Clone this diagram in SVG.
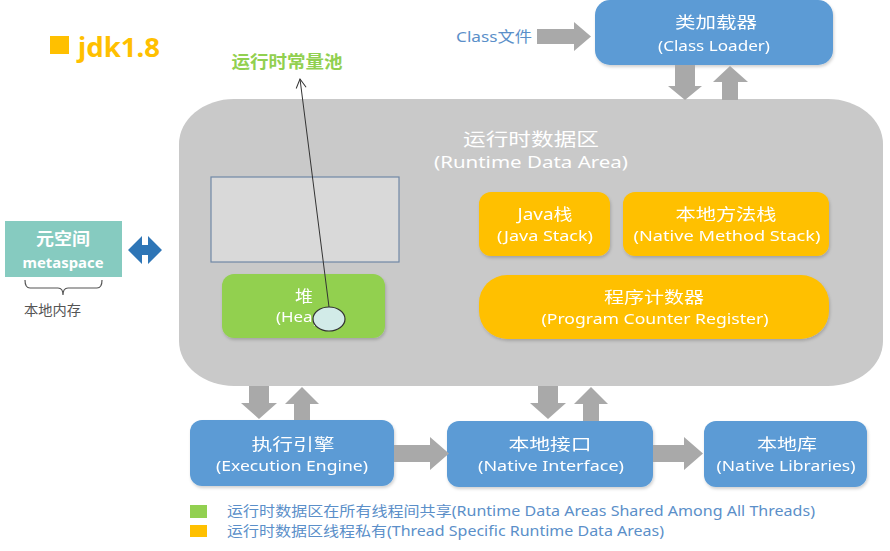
<svg xmlns="http://www.w3.org/2000/svg" width="890" height="551" viewBox="0 0 890 551">
<defs>
<style>
text{font-family:"Noto Sans","Noto Sans CJK SC",sans-serif;}
.w{fill:#ffffff;text-anchor:middle;}
.cn{font-size:16px;}
.en{font-size:15px;}
.blue{fill:#5b9bd5;}
.org{fill:#ffc000;}
.arr{fill:#a9a9a9;}
.leg{font-size:13.5px;fill:#5b8fc9;}
</style>
<filter id="sh" x="-10%" y="-10%" width="125%" height="130%">
<feDropShadow dx="1" dy="2" stdDeviation="1.5" flood-color="#000" flood-opacity="0.18"/>
</filter>
<marker id="open" markerWidth="12" markerHeight="12" refX="10" refY="6" orient="auto" markerUnits="userSpaceOnUse">
<path d="M1,1 L10,6 L1,11" fill="none" stroke="#333" stroke-width="1"/>
</marker>
</defs>
<rect width="890" height="551" fill="#ffffff"/>

<g id="title">
<rect x="50" y="36" width="19" height="18" fill="#ffc000"/>
<text x="78" y="57" font-size="27" font-weight="bold" fill="#ffc000" textLength="82" lengthAdjust="spacingAndGlyphs">jdk1.8</text>
</g>

<g id="runtime-data-area">
<rect x="179" y="99" width="704" height="287" rx="55" ry="45" fill="#c9c9c9"/>
<text x="531" y="146" class="w" font-size="18" fill="#f4f4f4" textLength="136" lengthAdjust="spacingAndGlyphs">运行时数据区</text>
<text x="531" y="168" class="w" font-size="16" fill="#f4f4f4" textLength="194" lengthAdjust="spacingAndGlyphs">(Runtime Data Area)</text>
</g>

<g id="class-file-label">
<text x="456" y="42" font-size="15" fill="#5b8fc9" textLength="76" lengthAdjust="spacingAndGlyphs">Class文件</text>
</g>

<g id="class-loader" filter="url(#sh)">
<rect x="595" y="0" width="238" height="65" rx="15" class="blue"/>
<text x="716" y="28" class="w cn" textLength="82" lengthAdjust="spacingAndGlyphs">类加载器</text>
<text x="714" y="51" class="w en" textLength="112" lengthAdjust="spacingAndGlyphs">(Class Loader)</text>
</g>

<g id="metaspace">
<rect x="5" y="221" width="117" height="56" fill="#86cbc0"/>
<text x="63" y="245" class="w" font-size="17" font-weight="bold" textLength="54" lengthAdjust="spacingAndGlyphs">元空间</text>
<text x="63" y="268" class="w" font-size="15" font-weight="bold" textLength="81" lengthAdjust="spacingAndGlyphs">metaspace</text>
<path d="M25,280 Q25,288 30,288 L58,288 Q63,288 63,295 Q63,288 68,288 L97,288 Q102,288 102,280" fill="none" stroke="#555" stroke-width="1.2"/>
<text x="24" y="315" font-size="14" fill="#555" textLength="57" lengthAdjust="spacingAndGlyphs">本地内存</text>
</g>

<g id="method-area-box">
<rect x="211" y="177" width="188" height="85" fill="#d9d9d9" stroke="#7088a6" stroke-width="1.2"/>
</g>

<g id="heap" filter="url(#sh)">
<rect x="222" y="274" width="163" height="64" rx="12" fill="#92d050"/>
<text x="304" y="302" class="w cn" textLength="18" lengthAdjust="spacingAndGlyphs">堆</text>
<text x="276" y="322" font-size="15" fill="#ffffff" textLength="52" lengthAdjust="spacingAndGlyphs">(Heap)</text>
</g>

<g id="java-stack" filter="url(#sh)">
<rect x="479" y="192" width="131" height="64" rx="12" class="org"/>
<text x="545" y="220" class="w cn" textLength="55" lengthAdjust="spacingAndGlyphs">Java栈</text>
<text x="545" y="241" class="w en" textLength="96" lengthAdjust="spacingAndGlyphs">(Java Stack)</text>
</g>

<g id="native-method-stack" filter="url(#sh)">
<rect x="623" y="192" width="206" height="64" rx="12" class="org"/>
<text x="726" y="220" class="w cn" textLength="101" lengthAdjust="spacingAndGlyphs">本地方法栈</text>
<text x="727" y="241" class="w en" textLength="187" lengthAdjust="spacingAndGlyphs">(Native Method Stack)</text>
</g>

<g id="program-counter" filter="url(#sh)">
<rect x="479" y="275" width="350" height="64" rx="28" class="org"/>
<text x="654" y="303" class="w cn" textLength="100" lengthAdjust="spacingAndGlyphs">程序计数器</text>
<text x="655" y="324" class="w en" textLength="227" lengthAdjust="spacingAndGlyphs">(Program Counter Register)</text>
</g>

<g id="execution-engine" filter="url(#sh)">
<rect x="190" y="420" width="204" height="66" rx="12" class="blue"/>
<text x="293" y="450" class="w cn" textLength="83" lengthAdjust="spacingAndGlyphs">执行引擎</text>
<text x="292" y="471" class="w en" textLength="152" lengthAdjust="spacingAndGlyphs">(Execution Engine)</text>
</g>

<g id="native-interface" filter="url(#sh)">
<rect x="447" y="421" width="206" height="66" rx="12" class="blue"/>
<text x="550" y="450" class="w cn" textLength="83" lengthAdjust="spacingAndGlyphs">本地接口</text>
<text x="551" y="471" class="w en" textLength="146" lengthAdjust="spacingAndGlyphs">(Native Interface)</text>
</g>

<g id="native-libraries" filter="url(#sh)">
<rect x="704" y="421" width="163" height="66" rx="12" class="blue"/>
<text x="787" y="450" class="w cn" textLength="60" lengthAdjust="spacingAndGlyphs">本地库</text>
<text x="786" y="471" class="w en" textLength="139" lengthAdjust="spacingAndGlyphs">(Native Libraries)</text>
</g>

<g id="legend">
<rect x="190" y="505" width="17" height="13" fill="#92d050"/>
<rect x="190" y="525" width="17" height="12" fill="#ffc000"/>
<text x="227" y="516" class="leg" textLength="588" lengthAdjust="spacingAndGlyphs">运行时数据区在所有线程间共享(Runtime Data Areas Shared Among All Threads)</text>
<text x="227" y="536" class="leg" textLength="437" lengthAdjust="spacingAndGlyphs">运行时数据区线程私有(Thread Specific Runtime Data Areas)</text>
</g>

<g id="connectors">
<polygon class="arr" points="537,29 574,29 574,22 591,36.5 574,51 574,44 537,44"/>
<polygon class="arr" points="675,65 695,65 695,86 702,86 685,100 668,86 675,86"/>
<polygon class="arr" points="722,100 738,100 738,82 748,82 730,66 713,82 722,82"/>
<polygon class="arr" points="249,386 269,386 269,403 277,403 259,419 241,403 249,403"/>
<polygon class="arr" points="294,420 310,420 310,404 319,404 302,387 285,404 294,404"/>
<polygon class="arr" points="538,386 558,386 558,403 566,403 548,419 530,403 538,403"/>
<polygon class="arr" points="583,421 599,421 599,404 608,404 591,387 574,404 583,404"/>
<polygon class="arr" points="394,445 430,445 430,437 449,453.5 430,470 430,462 394,462"/>
<polygon class="arr" points="653,445 684,445 684,437 703,453.5 684,470 684,462 653,462"/>
<polygon fill="#2e75b6" points="128,250 142,236 142,245 148,245 148,236 162,250 148,264 148,255 142,255 142,264"/>
<line x1="329" y1="307" x2="300" y2="79" stroke="#333" stroke-width="1" marker-end="url(#open)"/>
</g>

<g id="constant-pool-label">
<text x="287" y="68" text-anchor="middle" font-size="17" font-weight="bold" fill="#92d050" textLength="111" lengthAdjust="spacingAndGlyphs">运行时常量池</text>
</g>

<g id="constant-pool">
<ellipse cx="329" cy="319" rx="16" ry="12" fill="#d2ebe8" stroke="#333" stroke-width="1.2"/>
</g>
</svg>
